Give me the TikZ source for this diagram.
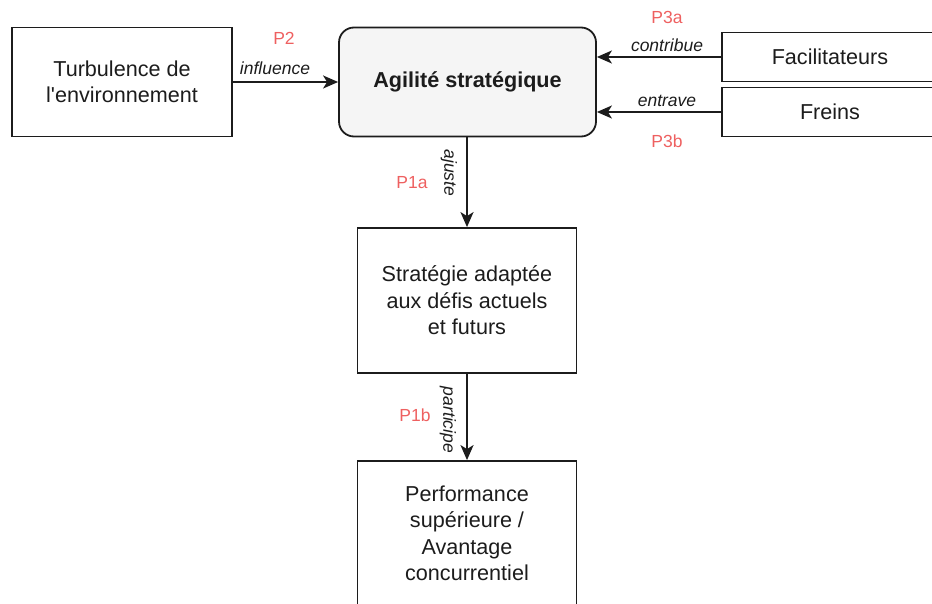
\documentclass[tikz,border=0pt]{standalone}
\usepackage{fontspec}
\setmainfont{Liberation Sans}
\usetikzlibrary{arrows.meta}
\definecolor{ink}{HTML}{1C1C1C}
\definecolor{plabel}{HTML}{EE6060}
\definecolor{softfill}{HTML}{F5F5F5}
\tikzset{
  box/.style={draw=ink, line width=1.8pt, align=center, text=ink,
    font=\fontsize{21.6}{26.5}\selectfont, inner sep=0pt},
  conn/.style={draw=ink, line width=2pt, -{Stealth[length=15pt,width=13pt,inset=4pt]}},
  edgelbl/.style={text=ink, font=\fontsize{17.5}{20}\selectfont\itshape, inner sep=0pt},
  plbl/.style={text=plabel, font=\fontsize{17.5}{20}\selectfont, inner sep=0pt}
}
\begin{document}
\begin{tikzpicture}[x=1pt, y=-1pt]
\useasboundingbox (0,0) rectangle (932,604);
\clip (0,0) rectangle (932,604);

% boxes
\node[box, minimum width=220pt, minimum height=109pt] (turb) at (122,82) {Turbulence de\\l\textquotesingle environnement};
\node[box, fill=softfill, rounded corners=15pt, minimum width=257pt, minimum height=109pt,
      font=\fontsize{21.6}{26.5}\selectfont\bfseries] (agil) at (467.5,82) {Agilité stratégique};
\node[box, minimum width=216pt, minimum height=49pt] (fac) at (830,57) {Facilitateurs};
\node[box, minimum width=216pt, minimum height=49pt] (frein) at (830,112) {Freins};
\node[box, minimum width=219pt, minimum height=145pt] (strat) at (467,300.5) {Stratégie adaptée\\aux défis actuels\\et futurs};
\node[box, minimum width=219pt, minimum height=145pt] (perf) at (467,533.5) {Performance\\supérieure /\\Avantage\\concurrentiel};

% connectors
\draw[conn] (turb.east) -- (agil.west);
\draw[conn] (fac.west) -- (fac.west -| agil.east);
\draw[conn] (frein.west) -- (frein.west -| agil.east);
\draw[conn] (agil.south -| strat.north) -- (strat.north);
\draw[conn] (strat.south) -- (perf.north);

% connector labels
\node[plbl] (p2) at (284,38) {P2};
\node[edgelbl] (linf) at (275,68) {influence};
\node[plbl] (p3a) at (667,17) {P3a};
\node[edgelbl] (lcon) at (667,45) {contribue};
\node[edgelbl] (lent) at (667,101) {entrave};
\node[plbl] (p3b) at (667,141) {P3b};
\node[plbl] (p1a) at (412,183) {P1a};
\node[edgelbl, rotate=-90] (laj) at (449,173) {ajuste};
\node[plbl] (p1b) at (415,415) {P1b};
\node[edgelbl, rotate=-90] (lpar) at (448,420) {participe};
\end{tikzpicture}
\end{document}
